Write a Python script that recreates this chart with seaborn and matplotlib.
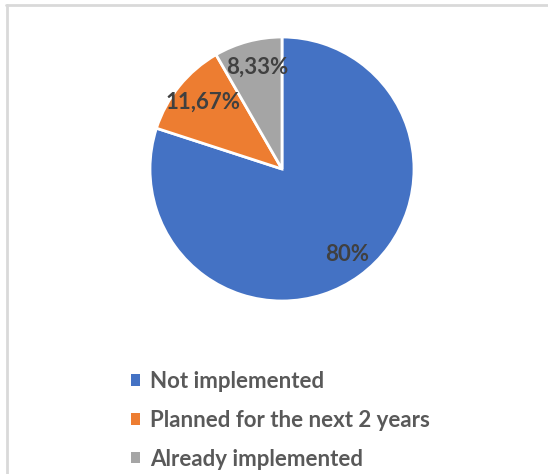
import matplotlib
matplotlib.use("Agg")
import matplotlib.pyplot as plt
from matplotlib.lines import Line2D
from matplotlib.patches import Patch
import numpy as np
import seaborn as sns

categories = ["Not implemented", "Planned for the next 2 years", "Already implemented"]
shares = [80, 11.67, 8.33]
colors = ["#4472C4", "#ED7D31", "#A5A5A5"]

sns.set_theme(style="white")
plt.rcParams["font.family"] = ["Lato", "DejaVu Sans"]

W, H = 548, 474
fig = plt.figure(figsize=(W / 100, H / 100), dpi=100)
fig.patch.set_facecolor("white")

# pie area: center (282, 169), radius 132 px
cx, cy, r = 282, 169, 132
ax = fig.add_axes([(cx - r) / W, 1 - (cy + r) / H, 2 * r / W, 2 * r / H])
ax.set_aspect("equal")


def fmt(v):
    return f"{v:g}".replace(".", ",") + "%"


wedges, _ = ax.pie(
    shares,
    colors=colors,
    startangle=90,
    counterclock=False,
    radius=1.0,
    wedgeprops=dict(edgecolor="white", linewidth=2),
)
for w, v in zip(wedges, shares):
    ang = np.deg2rad((w.theta1 + w.theta2) / 2)
    ax.text(0.8 * np.cos(ang) + 0.02, 0.8 * np.sin(ang), fmt(v),
            ha="center", va="center", fontsize=16, fontweight="bold",
            color="#404040")
ax.set_xlim(-1, 1)
ax.set_ylim(-1, 1)
ax.axis("off")

handles = [Patch(facecolor=c, edgecolor="none") for c in colors]
fig.legend(
    handles, categories,
    loc="upper left", bbox_to_anchor=(131 / W, 1 - 371 / H),
    frameon=False, handlelength=0.42, handleheight=0.42,
    handletextpad=0.45, labelspacing=0.8, borderpad=0, borderaxespad=0,
    prop=dict(weight="bold", size=16),
    labelcolor="#595959",
)

# light frame along top and left edges
fig.add_artist(Line2D([6 / W, 1], [1 - 5 / H, 1 - 5 / H], color="#D9D9D9",
                      linewidth=2, transform=fig.transFigure))
fig.add_artist(Line2D([7 / W, 7 / W], [1 - 5 / H, 0], color="#D9D9D9",
                      linewidth=2, transform=fig.transFigure))

fig.savefig("out.png", dpi=100, facecolor="white")
